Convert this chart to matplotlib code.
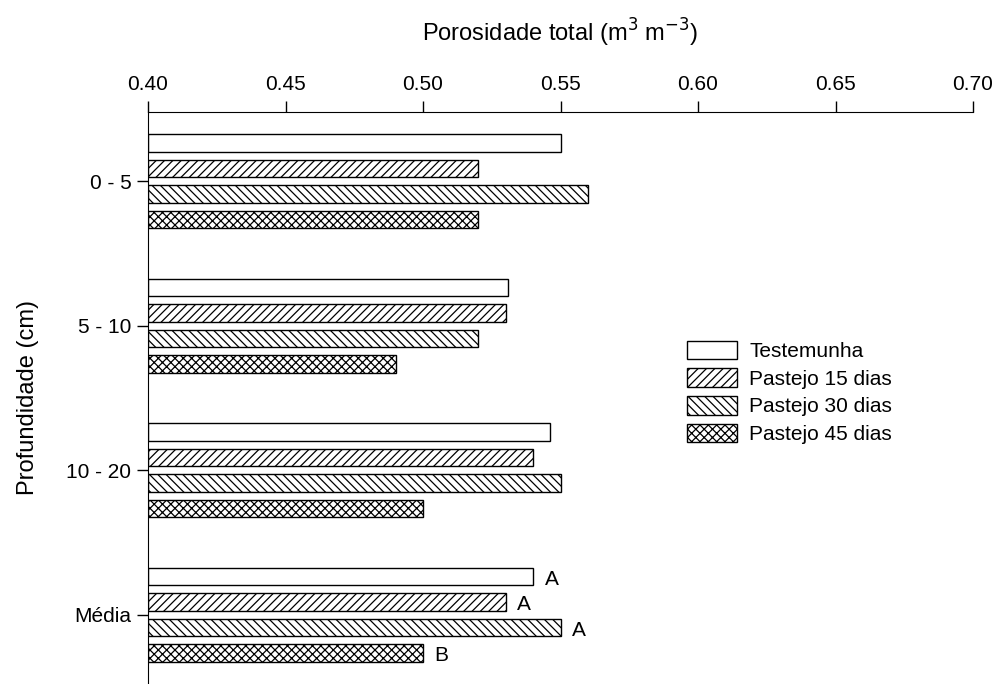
import numpy as np
import matplotlib.pyplot as plt

plt.rcParams['font.family'] = ['Liberation Sans', 'DejaVu Sans']
plt.rcParams['hatch.linewidth'] = 0.9

# data
depths = ["0 - 5", "5 - 10", "10 - 20", "Média"]
series = ["Testemunha", "Pastejo 15 dias", "Pastejo 30 dias", "Pastejo 45 dias"]
testemunha = [0.550, 0.531, 0.546, 0.540]
pastejo15 = [0.520, 0.530, 0.540, 0.530]
pastejo30 = [0.560, 0.520, 0.550, 0.550]
pastejo45 = [0.520, 0.490, 0.500, 0.500]
media_letters = ["A", "A", "A", "B"]

values = [testemunha, pastejo15, pastejo30, pastejo45]
hatches = [None, "////", "\\\\\\\\", "xxxx"]

fig = plt.figure(figsize=(9.98, 6.84), dpi=100)
ax = fig.add_axes([0.1483, 0.0, 0.8267, 0.8363])

y = np.arange(len(depths))
pitch = 0.176
height = 0.122
offsets = (np.arange(4) - 1.5) * pitch

for i in range(4):
    ax.barh(y + offsets[i], np.array(values[i]) - 0.40, left=0.40, height=height,
            color="white", edgecolor="black", linewidth=1.0, hatch=hatches[i],
            label=series[i])

# letters next to the "Média" bars
for i in range(4):
    ax.text(values[i][3] + 0.0042, y[3] + offsets[i] + 0.02, media_letters[i],
            ha="left", va="center", fontsize=15)

ax.set_xlim(0.40, 0.70)
ax.set_ylim(3.48, -0.48)
ax.set_xticks(np.arange(0.40, 0.701, 0.05))
ax.set_xticklabels([f"{v:.2f}" for v in np.arange(0.40, 0.701, 0.05)])
ax.set_yticks(y)
ax.set_yticklabels(depths)

ax.xaxis.tick_top()
ax.xaxis.set_label_position("top")
ax.spines["bottom"].set_visible(False)
ax.spines["right"].set_visible(False)
ax.tick_params(axis="both", direction="out", length=8, width=1, labelsize=15)
ax.tick_params(axis="x", pad=5)
ax.tick_params(axis="y", pad=4)

ax.set_xlabel("Porosidade total (m$^{3}$ m$^{-3}$)", fontsize=17, labelpad=24)
ax.set_ylabel("Profundidade (cm)", fontsize=17, labelpad=20)

ax.legend(loc="upper left", bbox_to_anchor=(0.643, 0.615), frameon=False,
          fontsize=15, handlelength=2.4, handleheight=1.0, handletextpad=0.6,
          labelspacing=0.35, borderaxespad=0)

fig.savefig("out.png", dpi=100)
